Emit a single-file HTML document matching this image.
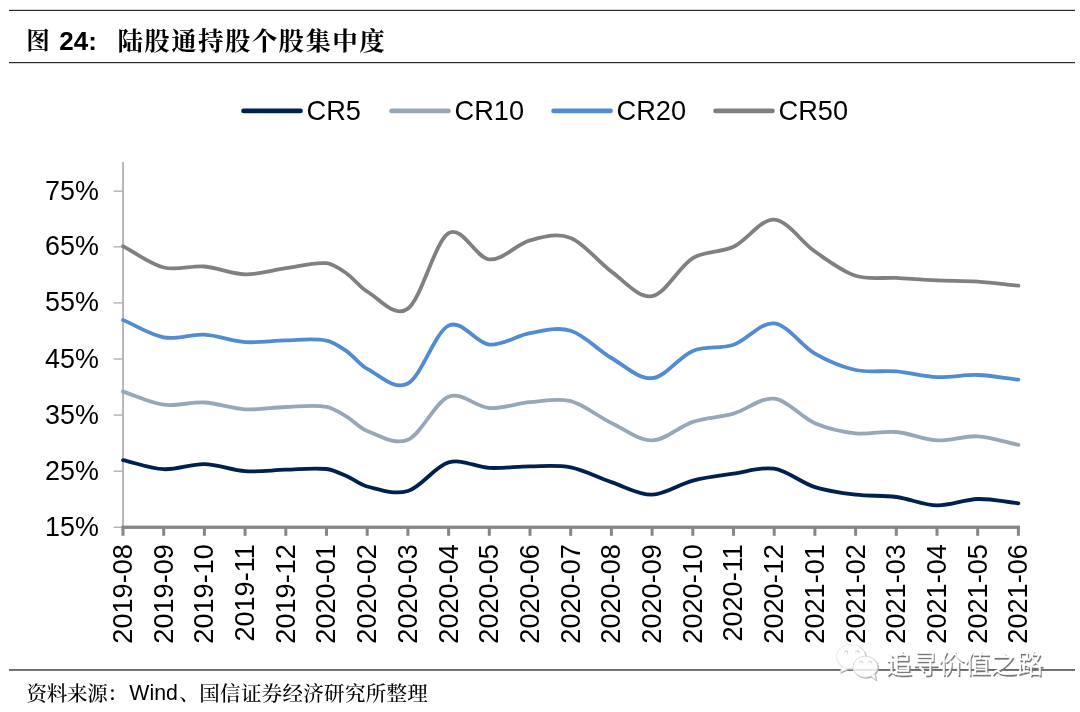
<!DOCTYPE html>
<html lang="zh-CN"><head><meta charset="utf-8"><title>图 24: 陆股通持股个股集中度</title>
<style>
html,body{margin:0;padding:0;background:#fff;}
body{width:1080px;height:712px;overflow:hidden;position:relative;}
svg{position:absolute;left:0;top:0;display:block;}
.a{font-family:"Liberation Sans",sans-serif;fill:#000;}
.k{font-family:"Liberation Sans","Noto Serif CJK SC",serif;fill:#000;}
</style></head><body>
<svg width="1080" height="712" viewBox="0 0 1080 712">
<rect width="1080" height="712" fill="#fff"/>
<rect x="9" y="9.8" width="1066" height="1.2" fill="#2a2a2a"/>
<rect x="9" y="62" width="1066" height="1.2" fill="#2a2a2a"/>
<rect x="9" y="669" width="1066" height="1.9" fill="#6a6a6a"/>
<text class="k" x="26.2" y="49.2" font-size="23.5" font-weight="700">图</text>
<text class="a" x="59.3" y="50.3" font-size="26" font-weight="700">24:</text>
<text class="k" x="117.5" y="50" font-size="25.5" font-weight="700" letter-spacing="1.35">陆股通持股个股集中度</text>
<line x1="243.5" y1="110.9" x2="300.5" y2="110.9" stroke="#00204e" stroke-width="4.6" stroke-linecap="round"/>
<text class="a" x="306.6" y="120.2" font-size="27.2">CR5</text>
<line x1="391.5" y1="110.9" x2="448.5" y2="110.9" stroke="#97a7b8" stroke-width="4.6" stroke-linecap="round"/>
<text class="a" x="454.6" y="120.2" font-size="27.2">CR10</text>
<line x1="553.5" y1="110.9" x2="610.5" y2="110.9" stroke="#528bd2" stroke-width="4.6" stroke-linecap="round"/>
<text class="a" x="616.6" y="120.2" font-size="27.2">CR20</text>
<line x1="715.5" y1="110.9" x2="772.5" y2="110.9" stroke="#808080" stroke-width="4.6" stroke-linecap="round"/>
<text class="a" x="778.6" y="120.2" font-size="27.2">CR50</text>
<rect x="122.1" y="162" width="1.9" height="366" fill="#b4b4b4"/>
<rect x="113.6" y="526.6" width="9.4" height="1.4" fill="#b4b4b4"/>
<text class="a" x="98.9" y="535.8" font-size="26.9" text-anchor="end">15%</text>
<rect x="113.6" y="470.5" width="9.4" height="1.4" fill="#b4b4b4"/>
<text class="a" x="98.9" y="479.7" font-size="26.9" text-anchor="end">25%</text>
<rect x="113.6" y="414.4" width="9.4" height="1.4" fill="#b4b4b4"/>
<text class="a" x="98.9" y="423.6" font-size="26.9" text-anchor="end">35%</text>
<rect x="113.6" y="358.3" width="9.4" height="1.4" fill="#b4b4b4"/>
<text class="a" x="98.9" y="367.5" font-size="26.9" text-anchor="end">45%</text>
<rect x="113.6" y="302.2" width="9.4" height="1.4" fill="#b4b4b4"/>
<text class="a" x="98.9" y="311.4" font-size="26.9" text-anchor="end">55%</text>
<rect x="113.6" y="246.1" width="9.4" height="1.4" fill="#b4b4b4"/>
<text class="a" x="98.9" y="255.3" font-size="26.9" text-anchor="end">65%</text>
<rect x="113.6" y="190.5" width="9.4" height="1.4" fill="#b4b4b4"/>
<text class="a" x="98.9" y="199.7" font-size="26.9" text-anchor="end">75%</text>
<rect x="121.5" y="525.6" width="898.5" height="3.3" fill="#868686"/>
<rect x="121.5" y="527" width="3" height="8.8" fill="#868686"/>
<rect x="162.2" y="527" width="3" height="8.8" fill="#868686"/>
<rect x="202.9" y="527" width="3" height="8.8" fill="#868686"/>
<rect x="243.6" y="527" width="3" height="8.8" fill="#868686"/>
<rect x="284.3" y="527" width="3" height="8.8" fill="#868686"/>
<rect x="325.0" y="527" width="3" height="8.8" fill="#868686"/>
<rect x="365.7" y="527" width="3" height="8.8" fill="#868686"/>
<rect x="406.4" y="527" width="3" height="8.8" fill="#868686"/>
<rect x="447.1" y="527" width="3" height="8.8" fill="#868686"/>
<rect x="487.8" y="527" width="3" height="8.8" fill="#868686"/>
<rect x="528.5" y="527" width="3" height="8.8" fill="#868686"/>
<rect x="569.2" y="527" width="3" height="8.8" fill="#868686"/>
<rect x="609.9" y="527" width="3" height="8.8" fill="#868686"/>
<rect x="650.6" y="527" width="3" height="8.8" fill="#868686"/>
<rect x="691.3" y="527" width="3" height="8.8" fill="#868686"/>
<rect x="732.0" y="527" width="3" height="8.8" fill="#868686"/>
<rect x="772.7" y="527" width="3" height="8.8" fill="#868686"/>
<rect x="813.4" y="527" width="3" height="8.8" fill="#868686"/>
<rect x="854.1" y="527" width="3" height="8.8" fill="#868686"/>
<rect x="894.8" y="527" width="3" height="8.8" fill="#868686"/>
<rect x="935.5" y="527" width="3" height="8.8" fill="#868686"/>
<rect x="976.2" y="527" width="3" height="8.8" fill="#868686"/>
<rect x="1016.9" y="527" width="3" height="8.8" fill="#868686"/>
<text class="a" font-size="27.1" text-anchor="end" transform="translate(131.9,544.2) rotate(-90)">2019-08</text>
<text class="a" font-size="27.1" text-anchor="end" transform="translate(172.6,544.2) rotate(-90)">2019-09</text>
<text class="a" font-size="27.1" text-anchor="end" transform="translate(213.3,544.2) rotate(-90)">2019-10</text>
<text class="a" font-size="27.1" text-anchor="end" transform="translate(254.0,544.2) rotate(-90)">2019-11</text>
<text class="a" font-size="27.1" text-anchor="end" transform="translate(294.7,544.2) rotate(-90)">2019-12</text>
<text class="a" font-size="27.1" text-anchor="end" transform="translate(335.4,544.2) rotate(-90)">2020-01</text>
<text class="a" font-size="27.1" text-anchor="end" transform="translate(376.1,544.2) rotate(-90)">2020-02</text>
<text class="a" font-size="27.1" text-anchor="end" transform="translate(416.8,544.2) rotate(-90)">2020-03</text>
<text class="a" font-size="27.1" text-anchor="end" transform="translate(457.5,544.2) rotate(-90)">2020-04</text>
<text class="a" font-size="27.1" text-anchor="end" transform="translate(498.2,544.2) rotate(-90)">2020-05</text>
<text class="a" font-size="27.1" text-anchor="end" transform="translate(538.9,544.2) rotate(-90)">2020-06</text>
<text class="a" font-size="27.1" text-anchor="end" transform="translate(579.6,544.2) rotate(-90)">2020-07</text>
<text class="a" font-size="27.1" text-anchor="end" transform="translate(620.3,544.2) rotate(-90)">2020-08</text>
<text class="a" font-size="27.1" text-anchor="end" transform="translate(661.0,544.2) rotate(-90)">2020-09</text>
<text class="a" font-size="27.1" text-anchor="end" transform="translate(701.7,544.2) rotate(-90)">2020-10</text>
<text class="a" font-size="27.1" text-anchor="end" transform="translate(742.4,544.2) rotate(-90)">2020-11</text>
<text class="a" font-size="27.1" text-anchor="end" transform="translate(783.1,544.2) rotate(-90)">2020-12</text>
<text class="a" font-size="27.1" text-anchor="end" transform="translate(823.8,544.2) rotate(-90)">2021-01</text>
<text class="a" font-size="27.1" text-anchor="end" transform="translate(864.5,544.2) rotate(-90)">2021-02</text>
<text class="a" font-size="27.1" text-anchor="end" transform="translate(905.2,544.2) rotate(-90)">2021-03</text>
<text class="a" font-size="27.1" text-anchor="end" transform="translate(945.9,544.2) rotate(-90)">2021-04</text>
<text class="a" font-size="27.1" text-anchor="end" transform="translate(986.6,544.2) rotate(-90)">2021-05</text>
<text class="a" font-size="27.1" text-anchor="end" transform="translate(1027.3,544.2) rotate(-90)">2021-06</text>
<path d="M123.0,246.3C136.6,253.4 150.1,264.1 163.7,267.5C177.3,270.9 190.8,265.4 204.4,266.5C218.0,267.6 231.5,274.0 245.1,274.3C258.7,274.6 272.2,270.1 285.8,268.2C299.4,266.3 312.9,262.0 326.5,263.2C333.3,263.8 340.1,269.0 346.9,273.7C353.6,278.4 360.4,287.7 367.2,291.6C380.8,299.4 394.3,318.4 407.9,308.6C421.5,298.9 435.0,241.3 448.6,233.1C462.2,224.9 475.7,258.2 489.3,259.4C502.9,260.6 516.4,244.0 530.0,240.4C543.6,236.8 557.1,232.7 570.7,237.9C584.3,243.1 597.8,261.9 611.4,271.6C625.0,281.3 638.5,298.4 652.1,296.1C665.7,293.9 679.2,266.3 692.8,258.1C706.4,249.9 719.9,253.2 733.5,246.8C747.1,240.4 760.6,218.9 774.2,219.7C787.8,220.5 801.3,242.1 814.9,251.5C828.5,260.8 842.0,271.4 855.6,275.8C869.2,280.2 882.7,277.1 896.3,277.9C909.9,278.7 923.4,279.8 937.0,280.4C950.6,281.0 964.1,280.7 977.7,281.6C991.3,282.5 1004.8,284.3 1018.4,285.7" fill="none" stroke="#808080" stroke-width="3.8" stroke-linecap="round" stroke-linejoin="round"/>
<path d="M123.0,320.1C136.6,325.8 150.1,334.9 163.7,337.3C177.3,339.7 190.8,333.9 204.4,334.7C218.0,335.5 231.5,341.2 245.1,342.1C258.7,343.0 272.2,340.6 285.8,340.3C299.4,340.1 312.9,338.1 326.5,340.6C333.3,341.8 340.1,346.7 346.9,351.4C353.6,356.1 360.4,365.3 367.2,368.9C380.8,376.0 394.3,390.7 407.9,383.5C421.5,376.3 435.0,332.1 448.6,325.6C462.2,319.1 475.7,343.3 489.3,344.6C502.9,345.9 516.4,335.5 530.0,333.2C543.6,330.9 557.1,326.6 570.7,330.7C584.3,334.8 597.8,350.1 611.4,358.0C625.0,365.9 638.5,379.4 652.1,378.2C665.7,377.0 679.2,356.5 692.8,350.9C706.4,345.3 719.9,349.4 733.5,344.8C747.1,340.2 760.6,321.9 774.2,323.4C787.8,324.9 801.3,345.9 814.9,353.7C828.5,361.5 842.0,367.1 855.6,370.0C869.2,372.9 882.7,370.2 896.3,371.4C909.9,372.6 923.4,376.5 937.0,377.1C950.6,377.7 964.1,374.6 977.7,375.0C991.3,375.4 1004.8,378.1 1018.4,379.6" fill="none" stroke="#528bd2" stroke-width="3.8" stroke-linecap="round" stroke-linejoin="round"/>
<path d="M123.0,391.6C136.6,396.0 150.1,402.9 163.7,404.7C177.3,406.5 190.8,401.7 204.4,402.5C218.0,403.3 231.5,408.6 245.1,409.3C258.7,410.1 272.2,407.4 285.8,407.0C299.4,406.6 312.9,404.6 326.5,406.8C333.3,407.9 340.1,412.8 346.9,416.8C353.6,420.8 360.4,428.5 367.2,431.0C380.8,436.1 394.3,445.4 407.9,439.7C421.5,434.0 435.0,402.0 448.6,396.7C462.2,391.4 475.7,407.1 489.3,408.0C502.9,408.9 516.4,403.3 530.0,402.2C543.6,401.1 557.1,397.7 570.7,401.2C584.3,404.7 597.8,416.5 611.4,423.0C625.0,429.5 638.5,440.6 652.1,440.4C665.7,440.2 679.2,426.4 692.8,421.9C706.4,417.4 719.9,417.5 733.5,413.6C747.1,409.7 760.6,397.1 774.2,398.7C787.8,400.3 801.3,417.4 814.9,423.2C828.5,429.0 842.0,431.8 855.6,433.3C869.2,434.8 882.7,430.8 896.3,432.0C909.9,433.2 923.4,439.7 937.0,440.4C950.6,441.1 964.1,435.6 977.7,436.3C991.3,437.1 1004.8,442.0 1018.4,444.9" fill="none" stroke="#97a7b8" stroke-width="3.8" stroke-linecap="round" stroke-linejoin="round"/>
<path d="M123.0,460.1C136.6,463.1 150.1,468.5 163.7,469.2C177.3,469.9 190.8,463.8 204.4,464.1C218.0,464.4 231.5,470.3 245.1,471.2C258.7,472.1 272.2,470.1 285.8,469.7C299.4,469.3 312.9,467.6 326.5,469.0C333.3,469.7 340.1,473.3 346.9,476.2C353.6,479.1 360.4,484.9 367.2,486.5C380.8,489.8 394.3,495.0 407.9,491.0C421.5,487.0 435.0,466.2 448.6,462.4C462.2,458.5 475.7,467.2 489.3,467.9C502.9,468.6 516.4,466.5 530.0,466.4C543.6,466.3 557.1,464.8 570.7,467.4C584.3,470.0 597.8,477.6 611.4,482.1C625.0,486.7 638.5,494.9 652.1,494.7C665.7,494.4 679.2,484.1 692.8,480.6C706.4,477.1 719.9,475.7 733.5,473.7C747.1,471.7 760.6,466.5 774.2,468.7C787.8,470.9 801.3,482.8 814.9,487.1C828.5,491.4 842.0,493.1 855.6,494.7C869.2,496.3 882.7,495.2 896.3,497.0C909.9,498.8 923.4,505.1 937.0,505.4C950.6,505.7 964.1,499.4 977.7,499.0C991.3,498.6 1004.8,501.9 1018.4,503.3" fill="none" stroke="#00204e" stroke-width="3.8" stroke-linecap="round" stroke-linejoin="round"/>
<text class="k" x="26.6" y="701" font-size="20.5" font-weight="500" letter-spacing="-0.3">资料来源：</text>
<text class="a" x="129.3" y="700.1" font-size="21.3">Wind</text>
<text class="k" x="179.2" y="701" font-size="20.5" font-weight="500">、</text>
<text class="k" x="199.3" y="701" font-size="20.5" font-weight="500" letter-spacing="0.3">国信证券经济研究所整理</text>
<g id="wm">
<g fill="#a8a8a8" stroke="#a8a8a8" stroke-width="0.6" transform="translate(0.9,0.9)">
<path d="M842.5,665.5 L840,672.5 L848.5,668.5Z"/>
<ellipse cx="851" cy="656.6" rx="14.6" ry="12.2"/>
</g>
<g fill="#fff" stroke="#dcdcdc" stroke-width="0.6">
<path d="M842.5,665.5 L840,672.5 L848.5,668.5Z"/>
<ellipse cx="851" cy="656.6" rx="14.6" ry="12.2"/>
</g>
<g fill="#b4b4b4"><circle cx="846.2" cy="652.4" r="1.9"/><circle cx="857.4" cy="652.4" r="1.9"/></g>
<g fill="#fff"><circle cx="846" cy="653" r="1.7"/><circle cx="857.2" cy="653" r="1.7"/></g>
<g fill="#a8a8a8" stroke="#a8a8a8" stroke-width="0.6" transform="translate(0.9,0.9)">
<path d="M870,675.5 L876,680 L874.5,673Z"/>
<ellipse cx="865.3" cy="666.8" rx="12.4" ry="10.6"/>
</g>
<g fill="#fff" stroke="#cfcfcf" stroke-width="0.7">
<path d="M870,675.5 L876,680 L874.5,673Z"/>
<ellipse cx="865.3" cy="666.8" rx="12.4" ry="10.6"/>
</g>
<rect x="853.5" y="669" width="23.5" height="1.9" fill="#e4e4e4"/>
<g fill="#b4b4b4"><circle cx="861" cy="662.3" r="1.6"/><circle cx="870" cy="662.3" r="1.6"/></g>
<g fill="#fff"><circle cx="860.8" cy="662.9" r="1.4"/><circle cx="869.8" cy="662.9" r="1.4"/></g>
<text x="886.9" y="674.7" font-size="26.3" font-family="'Liberation Sans','Noto Sans CJK SC',sans-serif" font-weight="300" fill="#777" stroke="#777" stroke-width="0.3">追寻价值之路</text>
<text x="885.6" y="673.4" font-size="26.3" font-family="'Liberation Sans','Noto Sans CJK SC',sans-serif" font-weight="300" fill="#fff" stroke="#fff" stroke-width="0.6">追寻价值之路</text>
</g>
</svg>
</body></html>
